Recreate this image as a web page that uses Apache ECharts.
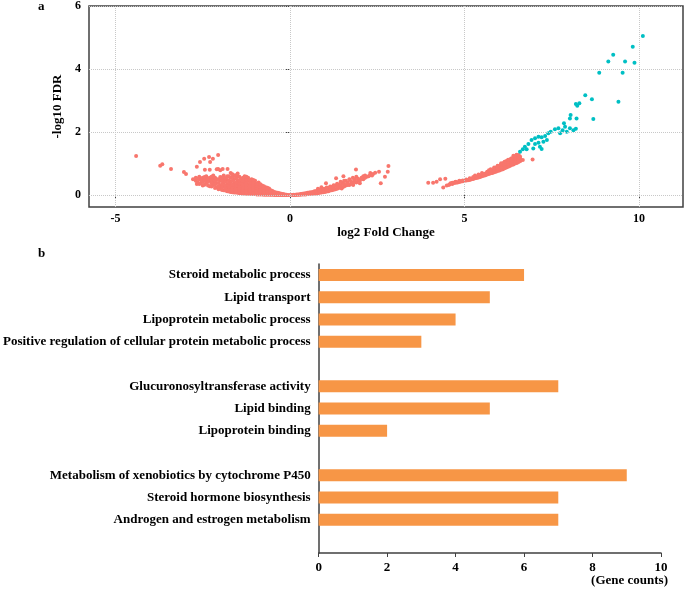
<!DOCTYPE html>
<html>
<head>
<meta charset="utf-8">
<script src="https://cdn.jsdelivr.net/npm/echarts@6/dist/echarts.min.js"></script>
<style>html,body{margin:0;padding:0;background:#fff}#c{width:685px;height:590px}</style>
</head>
<body>
<div id="c"></div>
<script>
// ---- Panel a: volcano-like scatter (log2 FC, -log10 FDR) ----
const volcanoXTicks = [-5, 0, 5, 10];
const volcanoYTicks = [0, 2, 4, 6];

const leftOutliers = [[-4.41,1.24],[-3.72,0.93],[-3.66,0.98],[-3.41,0.83],[-3.04,0.73],[-2.98,0.67],[-2.78,0.5],[-2.67,0.35],[-2.67,0.9],[-2.58,1.05],[-2.46,1.15],[-2.32,1.21],[-2.21,1.15],[-2.06,1.27],[-2.29,1.05],[-2.44,0.8],[-2.3,0.8],[-2.06,0.83],[-1.93,0.83],[-1.79,0.83],[-2.1,0.82],[-2.0,0.79],[-2.58,0.53],[-2.48,0.48],[-2.37,0.42],[-2.24,0.5],[-2.15,0.53],[-2.0,0.45],[-1.91,0.39]];

const leftBand = [[-2.7,0.45],[-2.7,0.55],[-2.6,0.35],[-2.6,0.5],[-2.6,0.58],[-2.5,0.3],[-2.5,0.42],[-2.5,0.55],[-2.4,0.38],[-2.4,0.5],[-2.4,0.6],[-2.3,0.28],[-2.3,0.45],[-2.3,0.55],[-2.2,0.32],[-2.2,0.4],[-2.2,0.52],[-2.2,0.62],[-2.1,0.25],[-2.1,0.38],[-2.1,0.5],[-2.0,0.2],[-2.0,0.3],[-2.0,0.57],[-1.9,0.15],[-1.9,0.28],[-1.9,0.5],[-1.9,0.62],[-1.8,0.12],[-1.8,0.25],[-1.8,0.35],[-1.8,0.48],[-1.8,0.6],[-1.7,0.1],[-1.7,0.2],[-1.7,0.32],[-1.7,0.42],[-1.7,0.55],[-1.7,0.7],[-1.6,0.08],[-1.6,0.18],[-1.6,0.28],[-1.6,0.38],[-1.6,0.5],[-1.6,0.62],[-1.5,0.07],[-1.5,0.15],[-1.5,0.25],[-1.5,0.35],[-1.5,0.45],[-1.5,0.58],[-1.5,0.68],[-1.4,0.06],[-1.4,0.13],[-1.4,0.22],[-1.4,0.32],[-1.4,0.42],[-1.4,0.52],[-1.3,0.05],[-1.3,0.12],[-1.3,0.2],[-1.3,0.28],[-1.3,0.38],[-1.3,0.5],[-1.3,0.6],[-1.2,0.04],[-1.2,0.1],[-1.2,0.18],[-1.2,0.26],[-1.2,0.34],[-1.2,0.45],[-1.2,0.55],[-1.1,0.03],[-1.1,0.09],[-1.1,0.16],[-1.1,0.24],[-1.1,0.32],[-1.1,0.42],[-1.1,0.5],[-1.0,0.03],[-1.0,0.08],[-1.0,0.14],[-1.0,0.2],[-1.0,0.28],[-1.0,0.36],[-1.0,0.45],[-0.9,0.02],[-0.9,0.06],[-0.9,0.12],[-0.9,0.18],[-0.9,0.25],[-0.9,0.32],[-0.9,0.4],[-0.8,0.02],[-0.8,0.05],[-0.8,0.1],[-0.8,0.15],[-0.8,0.22],[-0.8,0.3],[-0.7,0.01],[-0.7,0.04],[-0.7,0.08],[-0.7,0.13],[-0.7,0.19],[-0.7,0.25],[-0.6,0.01],[-0.6,0.03],[-0.6,0.07],[-0.6,0.11],[-0.6,0.16],[-0.6,0.21],[-0.5,0.01],[-0.5,0.03],[-0.5,0.06],[-0.5,0.09],[-0.5,0.13],[-0.4,0.0],[-0.4,0.02],[-0.4,0.05],[-0.4,0.08],[-0.3,0.0],[-0.3,0.02],[-0.3,0.04],[-0.3,0.06],[-0.2,0.0],[-0.2,0.01],[-0.2,0.03],[-0.1,0.0],[-0.1,0.01],[0,0.0]];

const leftBandFill = [[-2.65,0.4],[-2.65,0.52],[-2.55,0.38],[-2.55,0.47],[-2.45,0.33],[-2.45,0.45],[-2.45,0.57],[-2.35,0.3],[-2.35,0.42],[-2.35,0.52],[-2.25,0.27],[-2.25,0.37],[-2.25,0.48],[-2.25,0.58],[-2.15,0.22],[-2.15,0.33],[-2.15,0.45],[-2.15,0.55],[-2.05,0.18],[-2.05,0.27],[-2.05,0.38],[-2.05,0.5],[-1.95,0.16],[-1.95,0.24],[-1.95,0.35],[-1.95,0.45],[-1.95,0.56],[-1.85,0.14],[-1.85,0.22],[-1.85,0.3],[-1.85,0.42],[-1.85,0.53],[-1.75,0.11],[-1.75,0.18],[-1.75,0.27],[-1.75,0.37],[-1.75,0.47],[-1.75,0.6],[-1.65,0.09],[-1.65,0.15],[-1.65,0.24],[-1.65,0.33],[-1.65,0.45],[-1.65,0.57],[-1.65,0.66],[-1.55,0.08],[-1.55,0.13],[-1.55,0.2],[-1.55,0.3],[-1.55,0.4],[-1.55,0.53],[-1.55,0.63],[-1.45,0.06],[-1.45,0.11],[-1.45,0.18],[-1.45,0.27],[-1.45,0.37],[-1.45,0.47],[-1.45,0.58],[-1.35,0.05],[-1.35,0.1],[-1.35,0.16],[-1.35,0.24],[-1.35,0.33],[-1.35,0.44],[-1.35,0.55],[-1.25,0.04],[-1.25,0.08],[-1.25,0.14],[-1.25,0.22],[-1.25,0.3],[-1.25,0.4],[-1.25,0.5],[-1.25,0.58],[-1.15,0.04],[-1.15,0.07],[-1.15,0.13],[-1.15,0.2],[-1.15,0.28],[-1.15,0.37],[-1.15,0.47],[-1.05,0.03],[-1.05,0.06],[-1.05,0.11],[-1.05,0.17],[-1.05,0.24],[-1.05,0.32],[-1.05,0.4],[-1.05,0.48],[-0.95,0.02],[-0.95,0.05],[-0.95,0.1],[-0.95,0.15],[-0.95,0.22],[-0.95,0.29],[-0.95,0.36],[-0.85,0.02],[-0.85,0.04],[-0.85,0.08],[-0.85,0.13],[-0.85,0.19],[-0.85,0.26],[-0.85,0.34],[-0.75,0.01],[-0.75,0.03],[-0.75,0.07],[-0.75,0.11],[-0.75,0.17],[-0.75,0.22],[-0.75,0.28],[-0.65,0.01],[-0.65,0.03],[-0.65,0.05],[-0.65,0.09],[-0.65,0.14],[-0.65,0.19],[-0.65,0.23],[-0.55,0.01],[-0.55,0.02],[-0.55,0.05],[-0.55,0.08],[-0.55,0.11],[-0.55,0.15],[-0.45,0.0],[-0.45,0.02],[-0.45,0.04],[-0.45,0.07],[-0.45,0.1],[-0.35,0.0],[-0.35,0.01],[-0.35,0.03],[-0.35,0.05],[-0.35,0.07],[-0.25,0.0],[-0.25,0.01],[-0.25,0.02],[-0.25,0.04],[-0.15,0.0],[-0.15,0.01],[-0.15,0.02],[-0.05,0.0]];

const centerBand = [[0.1,0.0],[0.1,0.01],[0.2,0.01],[0.2,0.02],[0.3,0.01],[0.3,0.03],[0.4,0.02],[0.4,0.05],[0.5,0.03],[0.5,0.07],[0.6,0.04],[0.6,0.09],[0.7,0.05],[0.7,0.12],[0.8,0.06],[0.8,0.14],[0.8,0.2],[0.9,0.08],[0.9,0.17],[0.9,0.25],[1.0,0.1],[1.0,0.2],[1.03,0.37],[1.1,0.12],[1.1,0.22],[1.2,0.15],[1.2,0.26],[1.3,0.18],[1.3,0.3],[1.32,0.53],[1.4,0.22],[1.4,0.33],[1.48,0.21],[1.5,0.25],[1.5,0.38],[1.53,0.6],[1.6,0.3],[1.6,0.45],[1.7,0.32],[1.7,0.5],[1.8,0.35],[1.81,0.32],[1.8,0.55],[1.89,0.81],[1.9,0.4],[1.9,0.58],[2.0,0.37],[2.0,0.45],[2.1,0.5],[2.1,0.6],[2.2,0.58],[2.29,0.63],[2.3,0.7],[2.38,0.67],[2.44,0.71],[2.55,0.74],[2.6,0.37],[2.72,0.58],[2.8,0.74],[2.82,0.92]];

const centerBandFill = [[0.05,0.0],[0.15,0.0],[0.15,0.01],[0.25,0.01],[0.25,0.02],[0.35,0.02],[0.35,0.04],[0.45,0.02],[0.45,0.04],[0.45,0.06],[0.55,0.03],[0.55,0.05],[0.55,0.08],[0.65,0.04],[0.65,0.07],[0.65,0.1],[0.75,0.05],[0.75,0.09],[0.75,0.13],[0.85,0.07],[0.85,0.11],[0.85,0.16],[0.95,0.09],[0.95,0.14],[0.95,0.19],[1.05,0.11],[1.05,0.16],[1.05,0.24],[1.15,0.14],[1.15,0.19],[1.15,0.27],[1.25,0.17],[1.25,0.23],[1.25,0.31],[1.35,0.2],[1.35,0.27],[1.35,0.36],[1.45,0.24],[1.45,0.31],[1.45,0.42],[1.55,0.27],[1.55,0.35],[1.55,0.45],[1.65,0.32],[1.65,0.4],[1.75,0.36],[1.75,0.44],[1.85,0.42],[1.85,0.5],[1.95,0.47],[1.95,0.52],[2.05,0.52],[2.05,0.55],[2.15,0.55],[2.15,0.62],[2.25,0.6],[2.35,0.62]];

const rightBand = [[3.96,0.39],[4.1,0.39],[4.2,0.42],[4.3,0.5],[4.45,0.52],[4.39,0.24],[4.49,0.3],[4.58,0.34],[4.6,0.37],[4.7,0.38],[4.73,0.41],[4.8,0.4],[4.87,0.44],[4.9,0.43],[4.95,0.46],[5.0,0.45],[5.05,0.49],[5.1,0.47],[5.16,0.52],[5.2,0.5],[5.25,0.55],[5.3,0.53],[5.35,0.58],[5.3,0.62],[5.4,0.56],[5.45,0.6],[5.4,0.65],[5.5,0.6],[5.54,0.65],[5.5,0.7],[5.6,0.63],[5.6,0.68],[5.65,0.74],[5.7,0.67],[5.73,0.73],[5.7,0.79],[5.8,0.7],[5.8,0.77],[5.85,0.84],[5.9,0.74],[5.9,0.81],[5.92,0.88],[5.95,0.93],[6.0,0.78],[6.0,0.85],[6.03,0.92],[6.05,0.98],[6.1,0.82],[6.1,0.9],[6.11,0.97],[6.13,1.03],[6.2,0.87],[6.2,0.95],[6.22,1.02],[6.2,1.08],[6.3,0.92],[6.3,1.0],[6.3,1.07],[6.32,1.14],[6.4,0.97],[6.4,1.05],[6.4,1.12],[6.42,1.2],[6.4,1.25],[6.5,1.02],[6.5,1.1],[6.5,1.18],[6.49,1.28],[6.6,1.08],[6.6,1.15],[6.59,1.22],[6.67,1.11],[6.95,1.13]];

const rightBandFill = [[4.55,0.32],[4.65,0.35],[4.65,0.39],[4.75,0.39],[4.75,0.42],[4.85,0.41],[4.85,0.45],[4.95,0.44],[5.05,0.46],[5.15,0.48],[5.15,0.53],[5.25,0.51],[5.25,0.57],[5.35,0.54],[5.45,0.57],[5.45,0.63],[5.55,0.61],[5.55,0.67],[5.65,0.65],[5.65,0.71],[5.75,0.69],[5.75,0.76],[5.75,0.82],[5.85,0.72],[5.85,0.79],[5.85,0.87],[5.95,0.76],[5.95,0.84],[5.95,0.91],[6.05,0.8],[6.05,0.88],[6.05,0.95],[6.05,1.01],[6.15,0.85],[6.15,0.93],[6.15,1.0],[6.15,1.06],[6.25,0.9],[6.25,0.98],[6.25,1.05],[6.25,1.12],[6.35,0.95],[6.35,1.03],[6.35,1.1],[6.35,1.17],[6.45,1.0],[6.45,1.08],[6.45,1.15],[6.45,1.23],[6.55,1.05],[6.55,1.13],[6.55,1.2],[6.55,1.27]];

const sigPoints = [[6.59,1.37],[6.67,1.45],[6.73,1.53],[6.83,1.62],[6.92,1.75],[7.02,1.8],[7.12,1.85],[7.21,1.83],[7.31,1.87],[7.4,1.96],[7.47,2.01],[6.78,1.45],[6.97,1.48],[7.16,1.53],[7.21,1.46],[7.02,1.62],[7.12,1.66],[7.26,1.69],[7.36,1.75],[7.59,2.09],[7.69,2.12],[7.74,1.96],[7.81,2.06],[7.88,2.17],[7.93,2.01],[8.02,2.12],[8.12,2.06],[8.19,2.1],[7.85,2.28],[8.04,2.54],[8.21,2.43],[8.02,2.43],[8.23,2.83],[8.19,2.89],[8.29,2.91],[8.46,3.17],[8.65,3.04],[8.69,2.41],[8.86,3.88],[9.12,4.24],[9.26,4.45],[9.53,3.88],[9.6,4.24],[9.41,2.96],[9.82,4.71],[9.87,4.2],[10.11,5.05]];

// ---- Panel b: enrichment bar chart ----
const termCategories = ['Steroid metabolic process','Lipid transport','Lipoprotein metabolic process','Positive regulation of cellular protein metabolic process','','Glucuronosyltransferase activity','Lipid binding','Lipoprotein binding',' ','Metabolism of xenobiotics by cytochrome P450','Steroid hormone biosynthesis','Androgen and estrogen metabolism','  '];
const geneCounts = [6,5,4,3,null,7,5,2,null,9,7,7,null];

const serif = '"Liberation Serif", "Times New Roman", serif';
const red = '#F8766D', cyan = '#00BFC4';
const nonSig = leftOutliers.concat(leftBand, leftBandFill, centerBand, centerBandFill, rightBand, rightBandFill);

const gridLines = volcanoXTicks.map(v => ({xAxis: v})).concat(volcanoYTicks.map(v => ({yAxis: v})));

const chart = echarts.init(document.getElementById('c'), null, {renderer: 'canvas'});
chart.setOption({
  animation: false,
  backgroundColor: '#fff',
  textStyle: {fontFamily: serif},
  graphic: [
    {type: 'text', left: 38, top: 0, style: {text: 'a', font: 'bold 13px ' + serif, fill: '#000'}},
    {type: 'text', left: 38, top: 247, style: {text: 'b', font: 'bold 13px ' + serif, fill: '#000'}},
    {type: 'text', right: 17, top: 574, style: {text: '(Gene counts)', font: 'bold 13px ' + serif, fill: '#000'}}
  ],
  grid: [
    {left: 89, top: 6, width: 594, height: 201, show: true, borderColor: '#404040', borderWidth: 1.5, backgroundColor: 'transparent', containLabel: false},
    {left: 318, top: 264, width: 343, height: 289, containLabel: false}
  ],
  xAxis: [
    {gridIndex: 0, type: 'value', min: -5.76, max: 11.26,
     name: 'log2 Fold Change', nameLocation: 'middle', nameGap: 15,
     nameTextStyle: {fontFamily: serif, fontWeight: 'bold', fontSize: 13, color: '#000'},
     axisLine: {show: false}, splitLine: {show: false},
     axisTick: {show: true, length: 4, customValues: volcanoXTicks, lineStyle: {color: '#404040', width: 1}},
     axisLabel: {customValues: volcanoXTicks, margin: 6, fontFamily: serif, fontWeight: 'bold', fontSize: 12, color: '#000'}},
    {gridIndex: 1, type: 'value', min: 0, max: 10, interval: 2,
     axisLine: {show: true, lineStyle: {color: '#404040', width: 1.5}},
     axisTick: {show: true, length: 4, lineStyle: {color: '#404040'}},
     splitLine: {show: false},
     axisLabel: {margin: 8, fontFamily: serif, fontWeight: 'bold', fontSize: 13, color: '#000'}}
  ],
  yAxis: [
    {gridIndex: 0, type: 'value', min: -0.38, max: 6,
     name: '-log10 FDR', nameLocation: 'middle', nameGap: 24, nameRotate: 90,
     nameTextStyle: {fontFamily: serif, fontWeight: 'bold', fontSize: 13, color: '#000'},
     axisLine: {show: false}, splitLine: {show: false},
     axisTick: {show: true, length: 4, customValues: volcanoYTicks, lineStyle: {color: '#404040', width: 1}},
     axisLabel: {customValues: volcanoYTicks, margin: 8, fontFamily: serif, fontWeight: 'bold', fontSize: 12, color: '#000'}},
    {gridIndex: 1, type: 'category', data: termCategories, inverse: true,
     axisLine: {show: true, lineStyle: {color: '#404040', width: 1.5}},
     axisTick: {show: false},
     axisLabel: {margin: 8, fontFamily: serif, fontWeight: 'bold', fontSize: 13, color: '#000', interval: 0}}
  ],
  series: [
    {type: 'scatter', xAxisIndex: 0, yAxisIndex: 0, data: [], z: 1, silent: true,
     markLine: {silent: true, symbol: ['none', 'none'], label: {show: false},
       lineStyle: {type: 'dotted', color: '#c8c8c8', width: 1}, data: gridLines}},
    {type: 'scatter', xAxisIndex: 0, yAxisIndex: 0, data: nonSig, symbolSize: 4,
     itemStyle: {color: red, opacity: 1}, z: 3},
    {type: 'scatter', xAxisIndex: 0, yAxisIndex: 0, data: sigPoints, symbolSize: 4,
     itemStyle: {color: cyan, opacity: 1}, z: 3},
    {type: 'bar', xAxisIndex: 1, yAxisIndex: 1, data: geneCounts, barWidth: 12,
     itemStyle: {color: '#F79646'}}
  ]
});
</script>
</body>
</html>
